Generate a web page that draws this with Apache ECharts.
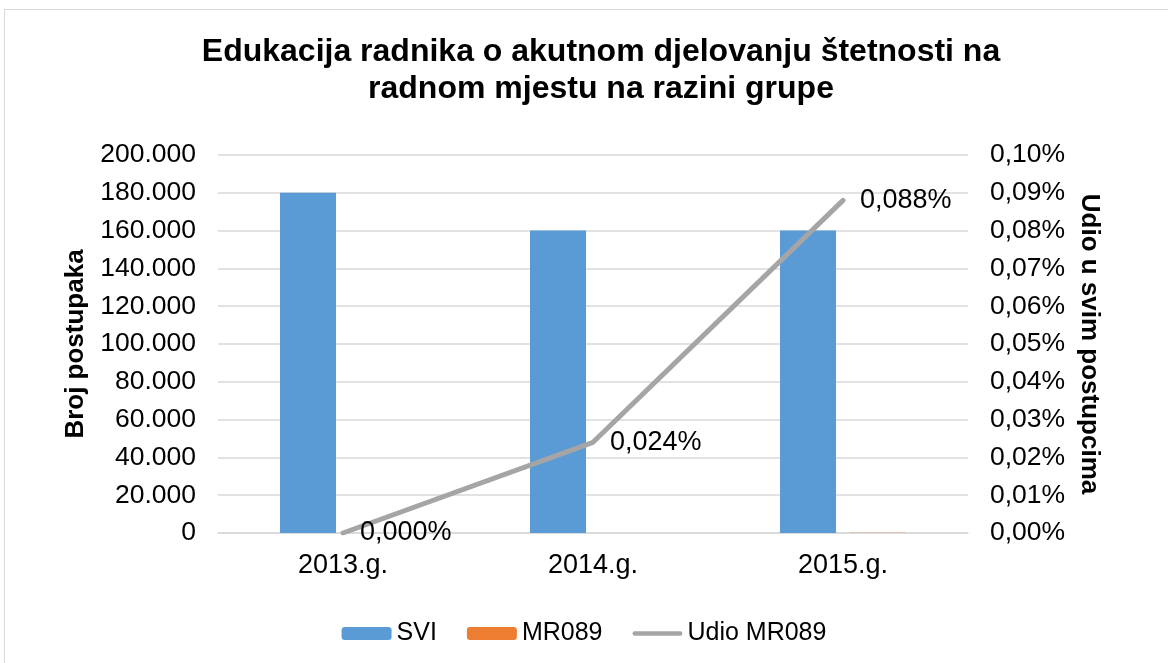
<!DOCTYPE html>
<html><head><meta charset="utf-8">
<script src="https://cdn.jsdelivr.net/npm/echarts@6/dist/echarts.min.js"></script>
<style>
html,body{margin:0;padding:0;background:#fff;}
#frame{position:absolute;left:4px;top:9px;width:1170px;height:660px;border:1px solid #d9d9d9;box-sizing:border-box;}
#c{position:absolute;left:0;top:0;width:1168px;height:663px;}
</style></head><body>
<div id="frame"></div>
<div id="c"></div>
<script>
const categories = ['2013.g.', '2014.g.', '2015.g.'];
const sviValues = [180000, 160000, 160000];
const mr089Values = [0, 38, 141];
const udioValues = [0, 0.024, 0.088];

const font = 'Liberation Sans, Arial, sans-serif';
const chart = echarts.init(document.getElementById('c'));
chart.setOption({
  animation: false,
  textStyle: {fontFamily: font},
  title: {
    text: 'Edukacija radnika o akutnom djelovanju štetnosti na\nradnom mjestu na razini grupe',
    left: 596, textAlign: 'center', top: 29,
    textStyle: {fontSize: 32, fontWeight: 'bold', color: '#000', lineHeight: 37, fontFamily: font}
  },
  legend: {
    bottom: 12, left: 'center', itemGap: 30, itemWidth: 50, itemHeight: 13,
    textStyle: {fontSize: 25, color: '#000', fontFamily: font},
    data: [{name: 'SVI'}, {name: 'MR089'}, {name: 'Udio MR089',
      icon: 'path://M0,0 L0,0 M2.5,4 L51.5,4 A2.5,2.5 0 0 1 51.5,9 L2.5,9 A2.5,2.5 0 0 1 2.5,4 Z M54,13 L54,13',
      itemStyle: {color: '#a5a5a5'}}]
  },
  grid: {left: 218, right: 200, top: 155, bottom: 130, containLabel: false},
  xAxis: {
    type: 'category', data: categories,
    axisLine: {lineStyle: {color: '#d9d9d9', width: 1.5}},
    axisTick: {show: false},
    axisLabel: {fontSize: 27, color: '#000', margin: 19, fontFamily: font}
  },
  yAxis: [{
    type: 'value', min: 0, max: 200000, interval: 20000,
    name: 'Broj postupaka', nameLocation: 'middle', nameGap: 117, nameRotate: 90,
    nameTextStyle: {fontSize: 26, fontWeight: 'bold', color: '#000', fontFamily: font},
    axisLabel: {fontSize: 26.5, color: '#000', margin: 22, fontFamily: font,
      formatter: v => v === 0 ? '0' : String(v).replace(/\B(?=(\d{3})+(?!\d))/g, '.')},
    splitLine: {lineStyle: {color: '#d9d9d9', width: 1.5}},
    axisLine: {show: false}, axisTick: {show: false}
  }, {
    type: 'value', min: 0, max: 0.10, interval: 0.01,
    name: 'Udio u svim postupcima', nameLocation: 'middle', nameGap: 108, nameRotate: 270,
    nameTextStyle: {fontSize: 26, fontWeight: 'bold', color: '#000', fontFamily: font},
    axisLabel: {fontSize: 26.5, color: '#000', margin: 22, fontFamily: font,
      formatter: v => v.toFixed(2).replace('.', ',') + '%'},
    splitLine: {show: false}, axisLine: {show: false}, axisTick: {show: false}
  }],
  series: [{
    name: 'SVI', type: 'bar', data: sviValues, barWidth: 56, barGap: '25%', barCategoryGap: '50%',
    itemStyle: {color: '#5b9bd5'}
  }, {
    name: 'MR089', type: 'bar', data: mr089Values, barWidth: 56,
    itemStyle: {color: '#ed7d31'}
  }, {
    name: 'Udio MR089', type: 'line', yAxisIndex: 1, data: udioValues,
    symbol: 'circle', symbolSize: 0.1, showSymbol: true,
    lineStyle: {color: '#a5a5a5', width: 5, cap: 'round', join: 'round'},
    itemStyle: {color: '#a5a5a5'},
    label: {show: true, position: 'right', distance: 17, fontSize: 27, color: '#000', fontFamily: font,
      formatter: p => p.value.toFixed(3).replace('.', ',') + '%'}
  }]
});
</script>
</body></html>
